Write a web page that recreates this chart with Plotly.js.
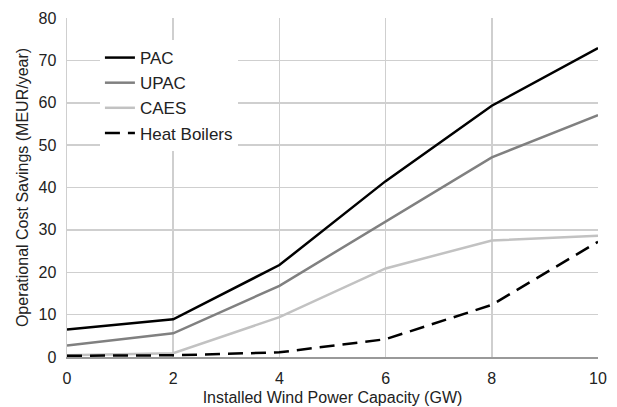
<!DOCTYPE html>
<html>
<head>
<meta charset="utf-8">
<script src="https://cdn.plot.ly/plotly-3.0.1.min.js"></script>
<style>html,body{margin:0;padding:0;background:#fff;}#chart{width:617px;height:407px;}</style>
</head>
<body>
<div id="chart"></div>
<script>
const capacity = [0, 2, 4, 6, 8, 10];
const pac = [6.5, 8.9, 21.7, 41.5, 59.3, 72.9];
const upac = [2.7, 5.6, 16.8, 31.9, 47.1, 57.1];
const caes = [0.4, 0.9, 9.4, 20.9, 27.5, 28.6];
const heatBoilers = [0.3, 0.4, 1.1, 4.2, 12.3, 27.2];
const seriesNames = ["PAC", "UPAC", "CAES", "Heat Boilers"];

const font = "Liberation Sans, Arial, sans-serif";
const traces = [
  {x: capacity, y: pac, name: seriesNames[0], mode: "lines", line: {color: "#000000", width: 2.5}},
  {x: capacity, y: upac, name: seriesNames[1], mode: "lines", line: {color: "#808080", width: 2.5}},
  {x: capacity, y: caes, name: seriesNames[2], mode: "lines", line: {color: "#c2c2c2", width: 2.5}},
  {x: capacity, y: heatBoilers, name: seriesNames[3], mode: "lines", line: {color: "#000000", width: 2.5, dash: "15px,8px"}}
];

const layout = {
  width: 617, height: 407,
  margin: {l: 67, r: 19, t: 18, b: 50},
  paper_bgcolor: "#ffffff", plot_bgcolor: "#ffffff",
  font: {family: font, color: "#222222", size: 16},
  showlegend: true,
  legend: {x: 0.062, y: 0.935, xanchor: "left", yanchor: "top", bgcolor: "#ffffff",
           font: {family: font, size: 17, color: "#222222"}, itemwidth: 30, tracegroupgap: 0},
  xaxis: {
    range: [0, 10], dtick: 2, tick0: 0, showgrid: true, gridcolor: "#cfcfcf", gridwidth: 1.5,
    zeroline: false, showline: true, linecolor: "#999999", linewidth: 2,
    ticks: "", ticklabelstandoff: 6,
    tickfont: {family: font, size: 16, color: "#222222"},
    title: {text: "Installed Wind Power Capacity (GW)", font: {family: font, size: 16, color: "#222222"}, standoff: 6}
  },
  yaxis: {
    range: [0, 80], dtick: 10, tick0: 0, showgrid: true, gridcolor: "#cfcfcf", gridwidth: 1.5,
    zeroline: false, showline: true, linecolor: "#cfcfcf", linewidth: 1.5,
    ticks: "", ticklabelstandoff: 6,
    tickfont: {family: font, size: 16, color: "#222222"},
    title: {text: "Operational Cost Savings (MEUR/year)", font: {family: font, size: 16, color: "#222222"}, standoff: 6}
  }
};

Plotly.newPlot("chart", traces, layout, {displayModeBar: false, staticPlot: true});
</script>
</body>
</html>
